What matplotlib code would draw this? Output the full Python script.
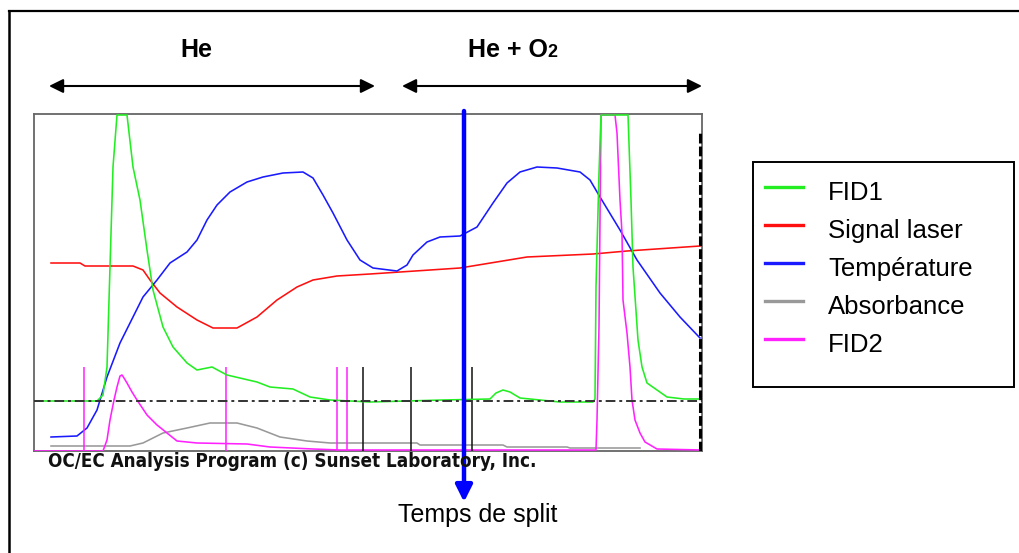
import matplotlib
matplotlib.use("Agg")
import matplotlib.pyplot as plt
from matplotlib import font_manager
from matplotlib.lines import Line2D
from matplotlib.patches import Rectangle, ArrowStyle

# ---------------- data (time units, signal units) ----------------
fid1_t = [0, 63, 69, 73, 76, 79, 83, 93, 99, 106, 113, 119, 129, 139, 153, 163, 178, 193,
          223, 236, 259, 276, 296, 336, 409, 456, 462, 469, 476, 486, 526, 559, 561, 562,
          565, 567, 594, 597, 599, 604, 608, 613, 623, 633, 650, 668]
fid1_v = [50, 50, 56, 84, 184, 284, 336, 336, 284, 251, 201, 161, 124, 104, 88, 81, 84, 76,
          69, 64, 62, 54, 51, 49, 51, 52, 58, 61, 59, 53, 49, 49, 52, 164,
          278, 336, 336, 251, 184, 111, 84, 68, 61, 54, 52, 52]

laser_t = [17, 46, 51, 99, 109, 116, 126, 143, 163, 179, 203, 223, 243, 263, 279, 303,
           336, 366, 426, 493, 559, 593, 666]
laser_v = [188, 188, 185, 185, 181, 171, 158, 144, 131, 123, 123, 134, 151, 164, 171, 175,
           177, 179, 183, 194, 197, 200, 205]

temp_t = [17, 43, 53, 63, 73, 86, 99, 109, 123, 136, 153, 163, 173, 183, 196, 213, 229,
          249, 269, 279, 289, 299, 313, 326, 339, 363, 373, 379, 393, 406, 426, 443, 459,
          473, 486, 503, 523, 546, 556, 566, 586, 603, 626, 646, 666]
temp_v = [14, 15, 23, 41, 74, 108, 134, 154, 171, 188, 199, 211, 231, 246, 259, 269, 274,
          278, 279, 273, 256, 238, 211, 191, 183, 180, 186, 196, 209, 214, 215, 224, 248,
          268, 279, 284, 283, 279, 271, 254, 221, 191, 158, 134, 113]

absorb_t = [17, 96, 109, 129, 153, 176, 203, 223, 246, 273, 296, 383, 386, 469, 473, 533, 536, 606]
absorb_v = [5, 5, 8, 18, 23, 28, 28, 23, 14, 10, 8, 8, 6, 6, 4, 4, 3, 3]

fid2_t = [0, 69, 73, 76, 80, 83, 86, 88, 90, 93, 98, 103, 113, 123, 133, 143, 163, 213,
          236, 279, 306, 562, 563, 565, 567, 571, 581, 583, 586, 588, 589, 593, 596, 598,
          601, 606, 611, 623, 668]
fid2_v = [0, 0, 11, 31, 51, 64, 75, 76, 73, 68, 59, 51, 36, 26, 18, 10, 8, 7,
          4, 2, 1, 1, 31, 124, 336, 336, 336, 318, 251, 218, 151, 118, 84, 51,
          31, 18, 9, 2, 1]

labels = ["FID1", "Signal laser", "Température", "Absorbance", "FID2"]
colors = ["#22ee22", "#ff1010", "#1a1aff", "#999999", "#ff22ff"]

marks_fid2 = [50, 192, 303, 313]
marks_black = [329, 377, 438]
mark_height = 84
baseline_level = 50
end_time = 666
end_top = 319
split_time = 430
phase_he = (15, 341)
phase_o2 = (368, 668)

# ---------------- figure ----------------
W, H = 1020, 553
fig = plt.figure(figsize=(W / 100, H / 100), dpi=100)
fig.patch.set_facecolor("white")

fl = font_manager.fontManager.ttflist
names = {f.name for f in fl}
sans = "Liberation Sans" if "Liberation Sans" in names else "DejaVu Sans"
cap_kw = dict(family=sans, fontweight="bold")
if "Liberation Sans Narrow" in names:
    cap_kw = dict(family="Liberation Sans Narrow", fontweight="bold")
elif any(f.name == "DejaVu Sans" and f.stretch == "condensed" for f in fl):
    cap_kw = dict(family="DejaVu Sans", fontweight="bold", fontstretch="condensed")


def fx(px):
    return px / W


def fy(py):
    return 1 - py / H


ax = fig.add_axes([fx(34), fy(451), fx(702) - fx(34), fy(114) - fy(451)])
ax.set_xlim(0, 668)
ax.set_ylim(0, 337)
ax.set_xticks([])
ax.set_yticks([])
for s in ax.spines.values():
    s.set_color("#666666")
    s.set_linewidth(1.3)

lw = 1.15
ax.plot(absorb_t, absorb_v, color=colors[3], lw=lw, zorder=2)
ax.plot(laser_t, laser_v, color=colors[1], lw=lw, zorder=3)
ax.plot(temp_t, temp_v, color=colors[2], lw=lw, zorder=3)
ax.plot(fid2_t, fid2_v, color=colors[4], lw=lw, zorder=4)
ax.plot(fid1_t, fid1_v, color=colors[0], lw=lw, zorder=5)

ax.vlines(marks_fid2, 0, mark_height, color=colors[4], lw=1.1, zorder=4)
ax.vlines(marks_black, 0, mark_height, color="#111111", lw=1.1, zorder=4)
ax.axhline(baseline_level, color="#333333", lw=1.4, ls=(0, (5, 2, 1.5, 2)), zorder=6)
ax.vlines([end_time], 0, end_top, color="black", lw=2.2, ls=(0, (3.2, 1)), zorder=6)

# split time arrow
ax.annotate("", xy=(split_time, -51), xytext=(split_time, 340), annotation_clip=False,
            arrowprops=dict(arrowstyle=ArrowStyle("-|>", head_length=0.5, head_width=0.25),
                            mutation_scale=20, color="#0000ff", lw=3.2,
                            shrinkA=0, shrinkB=0), zorder=10)
fig.text(fx(478), fy(522), "Temps de split", family=sans, fontsize=18, ha="center",
         va="baseline")

# phase arrows
for a, b in (phase_he, phase_o2):
    ax.annotate("", xy=(b, fy(86)), xytext=(a, fy(86)),
                xycoords=("data", "figure fraction"), textcoords=("data", "figure fraction"),
                annotation_clip=False,
                arrowprops=dict(arrowstyle=ArrowStyle("<|-|>", head_length=0.85, head_width=0.42),
                                mutation_scale=10, color="black", lw=1.5,
                                shrinkA=0, shrinkB=0))

fig.text(fx(196), fy(57), "He", family=sans, fontsize=18, fontweight="bold",
         ha="center", va="baseline")
t1 = fig.text(fx(468), fy(57), "He + O", family=sans, fontsize=18, fontweight="bold",
              ha="left", va="baseline")

# program caption
cap = fig.text(fx(48), fy(467), "OC/EC Analysis Program (c) Sunset Laboratory, Inc.",
               fontsize=14, ha="left", va="baseline", color="#111111", **cap_kw)

fig.canvas.draw()
r = fig.canvas.get_renderer()
bb = t1.get_window_extent(r)
fig.text(bb.x1 / W, fy(57), "2", family=sans, fontsize=13, fontweight="bold",
         ha="left", va="baseline")
cw = cap.get_window_extent(r).width
cap.set_fontsize(14 * 490 / cw)

# outer frame
fig.add_artist(Line2D([fx(9), fx(9)], [fy(11), 0], transform=fig.transFigure,
                      color="black", lw=1.8))
fig.add_artist(Line2D([fx(9), 1], [fy(11), fy(11)], transform=fig.transFigure,
                      color="black", lw=1.6))

# legend box
fig.add_artist(Rectangle((fx(753), fy(387)), fx(1014) - fx(753), fy(162) - fy(387),
                         transform=fig.transFigure, facecolor="white",
                         edgecolor="black", lw=1.4))
for i, (lab, col) in enumerate(zip(labels, colors)):
    py = 187 + 38 * i
    fig.add_artist(Line2D([fx(765), fx(803)], [fy(py), fy(py)], transform=fig.transFigure,
                          color=col, lw=2.4))
    fig.text(fx(828), fy(200 + 38 * i), lab, family=sans, fontsize=18.5,
             ha="left", va="baseline")

fig.savefig("out.png", dpi=100)
